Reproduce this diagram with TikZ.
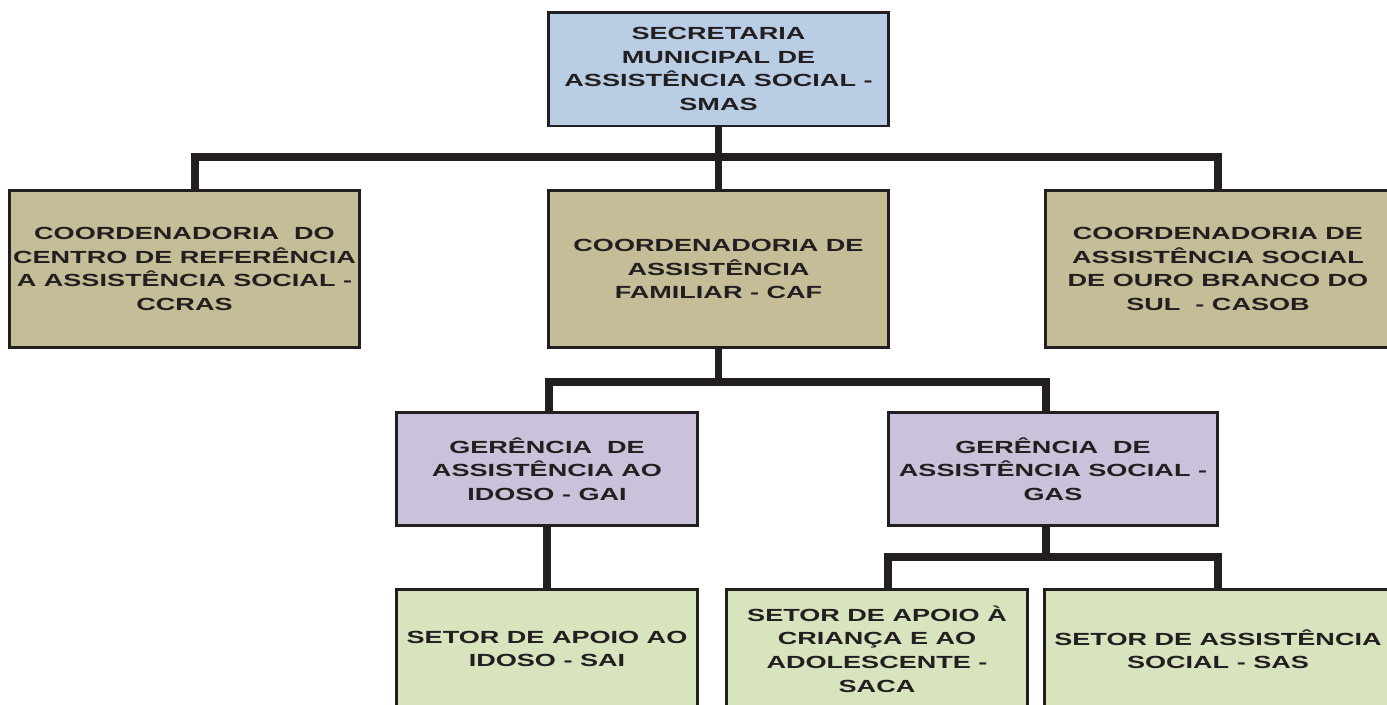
\documentclass[tikz,border=0pt]{standalone}
\usepackage{fontspec}
\setmainfont{Liberation Sans}[FakeStretch=1.54]
\definecolor{smasblue}{HTML}{B9CDE5}
\definecolor{coordtan}{HTML}{C4BD97}
\definecolor{gerlilac}{HTML}{CCC1DA}
\definecolor{setorgreen}{HTML}{D7E4BD}
\definecolor{inkdark}{HTML}{231F20}
\tikzset{
	orgbox/.style={draw=inkdark,line width=1.7pt,inner sep=0pt,align=center,text=inkdark,
		font=\bfseries\fontsize{10}{13.4}\selectfont},
	conn/.style={draw=inkdark,line width=4pt,line join=miter},
}
\begin{document}
\begin{tikzpicture}[x=0.02cm,y=-0.02cm]
	\useasboundingbox (0,0) rectangle (1387,704);
	\clip (0,0) rectangle (1387,704);
	\path
	(718.5,69) node[orgbox,fill=smasblue,minimum width=6.82cm,minimum height=2.28cm] (smas)
	{SECRETARIA\\MUNICIPAL DE\\ASSISTÊNCIA SOCIAL -\\SMAS}
	(184.5,269) node[orgbox,fill=coordtan,minimum width=7.02cm,minimum height=3.16cm] (ccras)
	{COORDENADORIA~ DO\\CENTRO DE REFERÊNCIA\\A ASSISTÊNCIA SOCIAL -\\CCRAS}
	(718.5,269) node[orgbox,fill=coordtan,minimum width=6.82cm,minimum height=3.16cm] (caf)
	{COORDENADORIA DE\\ASSISTÊNCIA\\FAMILIAR - CAF}
	(1218,269) node[orgbox,fill=coordtan,minimum width=6.92cm,minimum height=3.16cm] (casob)
	{COORDENADORIA DE\\ASSISTÊNCIA SOCIAL\\DE OURO BRANCO DO\\SUL~ - CASOB}
	(547,469) node[orgbox,fill=gerlilac,minimum width=6.02cm,minimum height=2.26cm] (gai)
	{GERÊNCIA~ DE\\ASSISTÊNCIA AO\\IDOSO - GAI}
	(1053,469) node[orgbox,fill=gerlilac,minimum width=6.6cm,minimum height=2.26cm] (gas)
	{GERÊNCIA~ DE\\ASSISTÊNCIA SOCIAL -\\GAS}
	(547,649) node[orgbox,fill=setorgreen,minimum width=6.02cm,minimum height=2.4cm] (sai)
	{SETOR DE APOIO AO\\IDOSO - SAI}
	(877,649) node[orgbox,fill=setorgreen,minimum width=6.04cm,minimum height=2.4cm] (saca)
	{SETOR DE APOIO À\\CRIANÇA E AO\\ADOLESCENTE -\\SACA}
	(1218,649) node[orgbox,fill=setorgreen,minimum width=6.94cm,minimum height=2.4cm] (sas)
	{SETOR DE ASSISTÊNCIA\\SOCIAL - SAS}
	;
	\path
	(195,157) coordinate (L1)
	(1218,157) coordinate (R1)
	(549,382) coordinate (L2)
	(1046,382) coordinate (R2)
	(888,557) coordinate (L3)
	(1218,557) coordinate (R3)
	;
	\draw[conn]
	(smas.south)--(caf.north)
	(L1|-ccras.north)--(L1)--(R1)--(R1|-casob.north)
	(caf.south)--(caf.south|-L2)
	(L2|-gai.north)--(L2)--(R2)--(R2|-gas.north)
	(gai.south)--(sai.north)
	(R2|-gas.south)--(R2|-L3)
	(L3|-saca.north)--(L3)--(R3)--(R3|-sas.north)
	;
\end{tikzpicture}
\end{document}
